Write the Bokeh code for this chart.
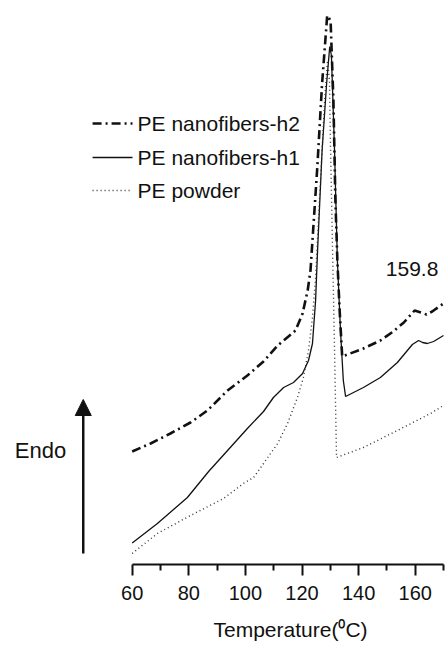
from bokeh.plotting import figure
from bokeh.models import Range1d, FixedTicker, Label, Arrow, NormalHead, Title
from bokeh.embed import file_html
from bokeh.resources import INLINE

FONT = "Liberation Sans"

# PE nanofibers-h2 (dash-dot), heat flow in arbitrary units
temp_h2 = [60.0, 66.5, 73.5, 80.6, 86.6, 93.7, 100.7, 106.4, 111.4, 115.2, 117.7,
           120.2, 122.0, 123.0, 125.4, 127.1, 128.9, 130.1, 131.1, 131.8, 132.5,
           133.3, 134.2, 141.7, 147.7, 152.0, 156.0, 159.8, 162.0, 164.0, 166.0, 170.0]
hf_h2 = [22.6, 24.2, 26.2, 28.4, 30.8, 34.8, 37.8, 40.6, 43.8, 45.6, 46.8,
         50.2, 54.8, 58.8, 79.4, 96.2, 109.8, 108.8, 92.8, 72.8, 60.8,
         50.8, 41.6, 43.2, 44.8, 46.5, 48.4, 50.8, 50.4, 50.0, 50.6, 52.2]

# PE nanofibers-h1 (solid)
temp_h1 = [60.0, 68.9, 79.5, 87.0, 93.7, 100.7, 106.4, 109.9, 113.5, 117.0, 120.2,
           122.3, 123.7, 124.8, 125.5, 127.1, 128.7, 129.8, 130.4, 131.5, 132.5,
           133.6, 134.6, 135.4, 141.7, 147.7, 153.7, 159.0, 161.2, 162.6, 164.3,
           166.5, 170.0]
hf_h1 = [4.3, 8.2, 13.4, 18.6, 22.8, 27.2, 30.6, 33.4, 35.4, 36.4, 38.2,
         40.8, 44.2, 52.8, 62.8, 82.8, 96.2, 103.6, 101.8, 82.8, 60.8,
         46.8, 36.8, 33.6, 35.4, 37.4, 40.4, 44.0, 44.8, 44.4, 44.2,
         44.6, 45.8]

# PE powder (dotted)
temp_pw = [60.0, 68.9, 80.6, 92.3, 99.3, 102.9, 106.4, 111.4, 114.9, 118.4, 120.5,
           122.3, 123.7, 124.8, 125.8, 126.9, 128.0, 129.0, 129.7, 130.1, 130.8,
           131.5, 132.2, 141.7, 153.7, 165.4, 170.0]
hf_pw = [2.2, 6.2, 9.8, 13.2, 16.2, 17.4, 20.2, 24.2, 28.2, 33.4, 37.4,
         42.8, 49.4, 57.4, 68.8, 80.8, 92.8, 100.8, 96.8, 82.8, 62.8,
         42.8, 21.4, 23.4, 26.8, 30.2, 31.8]

x_major = [60, 80, 100, 120, 140, 160]
x_minor = [70, 90, 110, 130, 150, 170]

series_names = ["PE nanofibers-h2", "PE nanofibers-h1", "PE powder"]
peak_label = "159.8"
x_title = "Temperature(\u2070C)"

p = figure(width=446, height=653, output_backend="svg", toolbar_location=None,
           x_range=Range1d(13.46, 171.06), y_range=Range1d(0, 110.8),
           y_axis_location=None, min_border_left=0, min_border_right=0,
           min_border_top=10, min_border_bottom=89)
p.outline_line_color = None
p.grid.visible = False
p.background_fill_color = "white"
p.border_fill_color = "white"

ax = p.xaxis[0]
ax.bounds = (60, 170)
ax.ticker = FixedTicker(ticks=x_major, minor_ticks=x_minor)
ax.axis_line_width = 2
ax.axis_line_color = "#111111"
ax.major_tick_line_width = 2
ax.major_tick_line_color = "#111111"
ax.minor_tick_line_width = 2
ax.minor_tick_line_color = "#111111"
ax.major_tick_in = 0
ax.major_tick_out = 11
ax.minor_tick_in = 0
ax.minor_tick_out = 6
ax.major_label_text_font = FONT
ax.major_label_text_font_size = "20px"
ax.major_label_text_color = "#111111"
ax.major_label_standoff = 10

# x-axis title, placed under the axis and aligned to the reference position
p.add_layout(Title(text=x_title, align="left", offset=213, text_font=FONT,
                   text_font_size="21px", text_font_style="normal",
                   text_color="#111111", standoff=26), "below")

styles = [
    dict(line_width=2.6, line_dash="9 4 2 4", line_color="#111111"),
    dict(line_width=1.3, line_dash="solid", line_color="#111111"),
    dict(line_width=1.4, line_dash="1 3", line_color="#333333"),
]
data = [(temp_h2, hf_h2), (temp_h1, hf_h1), (temp_pw, hf_pw)]
for (xs, ys), st in zip(data, styles):
    p.line(xs, ys, **st)

# legend
leg_y = [88.2, 81.4, 74.8]
for name, st, yy in zip(series_names, styles, leg_y):
    p.add_layout(Arrow(end=None, x_start=46.0, y_start=yy, x_end=60.1, y_end=yy,
                       line_width=st["line_width"], line_dash=st["line_dash"],
                       line_color=st["line_color"]))
    p.add_layout(Label(x=61.9, y=yy, text=name, text_font=FONT,
                       text_font_size="21px", text_baseline="middle",
                       text_color="#111111"))

p.add_layout(Label(x=158.9, y=59.2, text=peak_label, text_font=FONT,
                   text_font_size="21px", text_align="center",
                   text_baseline="middle", text_color="#111111"))

# Endo arrow
p.add_layout(Arrow(x_start=42.7, y_start=2.2, x_end=42.7, y_end=33.0,
                   line_width=2.5, line_color="#111111",
                   end=NormalHead(size=16, fill_color="#111111",
                                  line_color="#111111")))
p.add_layout(Label(x=27.6, y=22.8, text="Endo", text_font=FONT,
                   text_font_size="22px", text_align="center",
                   text_baseline="middle", text_color="#111111"))

open("out.html", "w").write(file_html(p, INLINE))
